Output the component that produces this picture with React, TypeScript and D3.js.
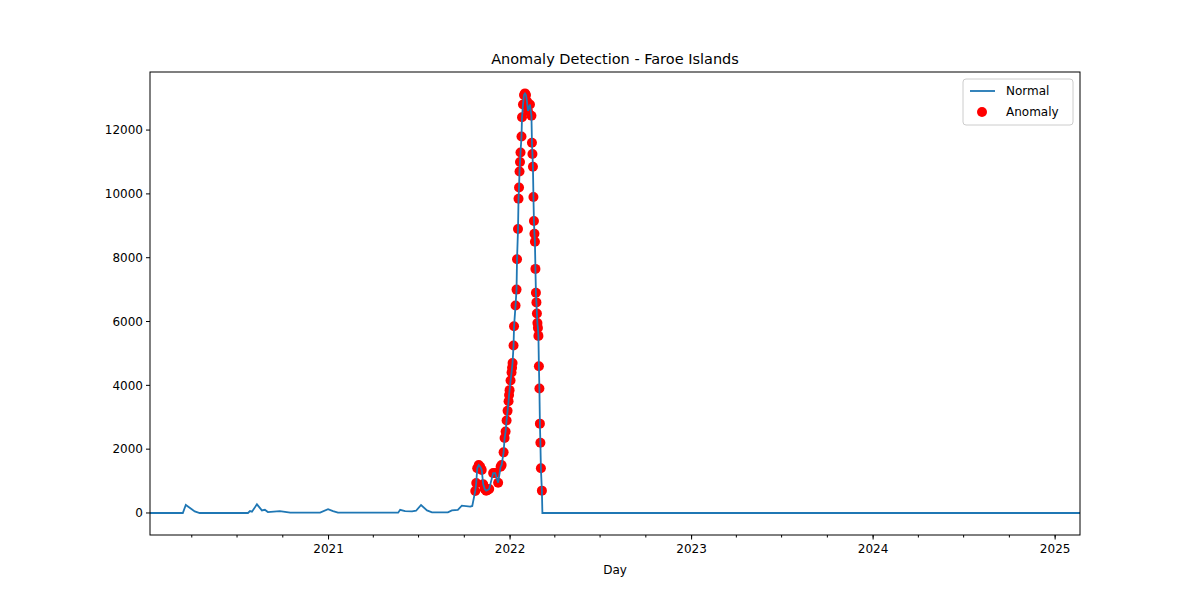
import { useEffect } from "react";
import * as d3 from "d3";

// days counted from startDate
const startDate = new Date(2020, 0, 8);
const totalDays = 1870;

const baseDays = [0, 66, 72, 90, 100, 197, 201, 205, 215, 225, 231, 237, 261, 282, 342, 358, 368, 378, 499, 503, 513, 527, 535, 545, 557, 567, 599, 607, 619, 627, 644, 648];
const baseValues = [0, 0, 250, 50, 0, 0, 60, 40, 270, 80, 100, 30, 60, 10, 10, 120, 60, 10, 10, 100, 60, 50, 70, 250, 80, 20, 20, 80, 100, 230, 200, 220];

const anomalyDays = [654, 656, 658, 661, 664, 667, 670, 673, 676, 679, 682, 690, 694, 700, 705, 707, 711, 713, 715, 717, 719, 721, 722, 723, 725, 727, 728, 729, 731, 732, 735, 737, 738, 740, 741, 742, 743, 744, 745, 747, 748, 750, 752, 754, 756, 758, 760, 764, 767, 768, 769, 770, 771, 772, 773, 774, 775, 776, 777, 778, 779, 780, 781, 782, 783, 784, 785, 786, 788];
const anomalyValues = [690, 940, 1400, 1500, 1450, 1350, 900, 750, 700, 720, 750, 1250, 1250, 950, 1450, 1500, 1900, 2350, 2550, 2900, 3200, 3500, 3700, 3850, 4150, 4400, 4550, 4700, 5250, 5850, 6500, 7000, 7950, 8900, 9850, 10200, 10700, 11000, 11300, 11800, 12400, 12800, 13100, 13150, 13100, 12900, 12600, 12800, 12450, 11600, 11250, 10850, 9900, 9150, 8750, 8500, 7650, 6900, 6600, 6250, 5950, 5800, 5550, 4600, 3900, 2800, 2200, 1400, 700];

const tailDays = [789, totalDays];
const tailValues = [0, 0];

const yTicks = [0, 2000, 4000, 6000, 8000, 10000, 12000];

const dayToDate = (d: number) => d3.timeDay.offset(startDate, d);

export default function App() {
  useEffect(() => {
    document.body.style.margin = "0";
  }, []);

  const W = 1200, H = 600;
  const m = { left: 150, right: 1080, top: 72, bottom: 535 };
  const x = d3.scaleTime().domain([startDate, dayToDate(totalDays)]).range([m.left, m.right]);
  const y = d3.scaleLinear().domain([-690, 13820]).range([m.bottom, m.top]);

  const pts: [number, number][] = [
    ...baseDays.map((d, i) => [d, baseValues[i]] as [number, number]),
    ...anomalyDays.map((d, i) => [d, anomalyValues[i]] as [number, number]),
    ...tailDays.map((d, i) => [d, tailValues[i]] as [number, number]),
  ];
  const line = d3.line<[number, number]>().x((p) => x(dayToDate(p[0]))).y((p) => y(p[1]));

  const years = d3.timeYear.range(d3.timeYear.ceil(startDate), dayToDate(totalDays + 1));
  const quarters = d3.timeMonth.every(3)!.range(d3.timeMonth.ceil(startDate), dayToDate(totalDays + 1));
  const font = "DejaVu Sans, sans-serif";

  return (
    <svg width={W} height={H} style={{ display: "block" }} fontFamily={font}>
      <rect width={W} height={H} fill="white" />
      <text x={(m.left + m.right) / 2} y={64} textAnchor="middle" fontSize={14.5}>Anomaly Detection - Faroe Islands</text>
      <defs>
        <clipPath id="clip"><rect x={m.left} y={m.top} width={m.right - m.left} height={m.bottom - m.top} /></clipPath>
      </defs>
      <g clipPath="url(#clip)">
        {anomalyDays.map((d, i) => (
          <circle key={i} cx={x(dayToDate(d))} cy={y(anomalyValues[i])} r={5} fill="red" />
        ))}
        <path d={line(pts) ?? ""} fill="none" stroke="#1f77b4" strokeWidth={1.8} />
      </g>
      <rect x={m.left} y={m.top} width={m.right - m.left} height={m.bottom - m.top} fill="none" stroke="black" strokeWidth={1} />
      {yTicks.map((t) => (
        <g key={t}>
          <line x1={m.left - 4} x2={m.left} y1={y(t)} y2={y(t)} stroke="black" />
          <text x={m.left - 7} y={y(t)} dy="0.35em" textAnchor="end" fontSize={12}>{t}</text>
        </g>
      ))}
      {quarters.map((q, i) => (
        <line key={i} x1={x(q)} x2={x(q)} y1={m.bottom} y2={m.bottom + 2.5} stroke="black" />
      ))}
      {years.map((yr) => (
        <g key={yr.getFullYear()}>
          <line x1={x(yr)} x2={x(yr)} y1={m.bottom} y2={m.bottom + 4.5} stroke="black" />
          <text x={x(yr)} y={m.bottom + 18} textAnchor="middle" fontSize={12}>{yr.getFullYear()}</text>
        </g>
      ))}
      <text x={(m.left + m.right) / 2} y={574} textAnchor="middle" fontSize={12}>Day</text>
      <g>
        <rect x={963} y={79} width={110} height={46} rx={3} fill="white" stroke="#ccc" />
        <line x1={970} x2={995} y1={91} y2={91} stroke="#1f77b4" strokeWidth={1.8} />
        <text x={1006} y={91} dy="0.35em" fontSize={12}>Normal</text>
        <circle cx={982} cy={112} r={5} fill="red" />
        <text x={1006} y={112} dy="0.35em" fontSize={12}>Anomaly</text>
      </g>
    </svg>
  );
}
